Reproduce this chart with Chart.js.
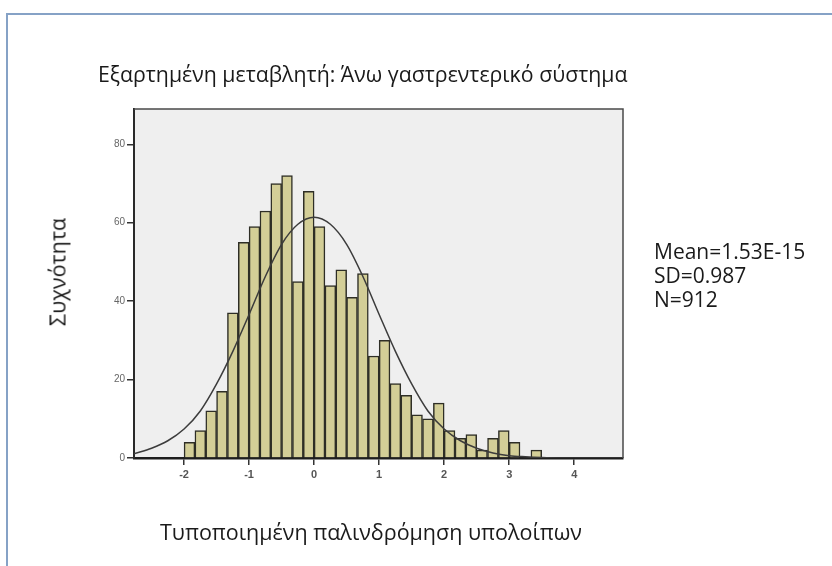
<!DOCTYPE html>
<html>
<head>
<meta charset="utf-8">
<script src="https://cdn.jsdelivr.net/npm/chart.js@4.4.1/dist/chart.umd.min.js"></script>
<style>
  html, body { margin: 0; padding: 0; background: #fff; }
  body { width: 832px; height: 566px; position: relative; overflow: hidden; font-family: 'Open Sans', 'Noto Sans', sans-serif; color: #1a1a1a; }
  .frame { position: absolute; left: 6px; top: 13px; width: 900px; height: 700px; border-top: 2px solid #86a2c6; border-left: 2px solid #86a2c6; }
  #wrap { position: absolute; left: 0; top: 0; width: 832px; height: 566px; }
  .txt { position: absolute; white-space: nowrap; }
  #title { left: 98px; top: 73px; transform: translateY(-50%); font-size: 21.3px; }
  #ylab { left: 57px; top: 272px; transform: translate(-50%, -50%) rotate(-90deg); font-size: 21.5px; }
  #xlab { left: 371px; top: 531px; transform: translate(-50%, -50%); font-size: 21.5px; }
  #stats { left: 654px; top: 239px; font-size: 21px; line-height: 24px; }
</style>
</head>
<body>
<div class="frame"></div>
<div id="wrap"><canvas id="hist"></canvas></div>
<div class="txt" id="title">Εξαρτημένη μεταβλητή: Άνω γαστρεντερικό σύστημα</div>
<div class="txt" id="ylab">Συχνότητα</div>
<div class="txt" id="xlab">Τυποποιημένη παλινδρόμηση υπολοίπων</div>
<div class="txt" id="stats">Mean=1.53E-15<br>SD=0.987<br>N=912</div>
<script>
// histogram bins (centres, width 1/6) and frequencies
const binCenters = [-1.917, -1.75, -1.583, -1.417, -1.25, -1.083, -0.917, -0.75, -0.583, -0.417, -0.25, -0.083,
  0.083, 0.25, 0.417, 0.583, 0.75, 0.917, 1.083, 1.25, 1.417, 1.583, 1.75, 1.917,
  2.083, 2.25, 2.417, 2.583, 2.75, 2.917, 3.083, 3.25, 3.417];
const counts = [4, 7, 12, 17, 37, 55, 59, 63, 70, 72, 45, 68,
  59, 44, 48, 41, 47, 26, 30, 19, 16, 11, 10, 14,
  7, 5, 6, 2, 5, 7, 4, 0, 2];

// normal curve
const curveX = [-2.77, -2.5, -2.25, -2, -1.75, -1.5, -1.25, -1, -0.75, -0.5, -0.25, 0,
  0.25, 0.5, 0.75, 1, 1.25, 1.5, 1.75, 2, 2.25, 2.5, 2.75, 3, 3.25, 3.5, 3.75, 4, 4.25, 4.5, 4.75];
const curveY = [1.1, 2.5, 4.4, 7.4, 12.0, 18.9, 27.2, 36.6, 46.3, 54.5, 59.6, 61.4,
  59.6, 54.5, 46.3, 36.6, 27.2, 18.9, 12.0, 7.4, 4.4, 2.5, 1.3, 0.6, 0.3, 0.1, 0, 0, 0, 0, 0];

const xTicks = [-2, -1, 0, 1, 2, 3, 4];
const yTicks = [0, 20, 40, 60, 80];

const plotBg = {
  id: 'plotBg',
  beforeDraw(chart) {
    const { ctx, chartArea: a } = chart;
    ctx.save();
    ctx.fillStyle = '#efefef';
    ctx.fillRect(a.left, a.top, a.right - a.left, a.bottom - a.top);
    ctx.restore();
  },
  afterDraw(chart) {
    const { ctx, chartArea: a } = chart;
    ctx.save();
    ctx.strokeStyle = '#4a4a4a';
    ctx.lineWidth = 1.5;
    ctx.beginPath();
    ctx.moveTo(a.left, a.top);
    ctx.lineTo(a.right, a.top);
    ctx.lineTo(a.right, a.bottom);
    ctx.stroke();
    ctx.restore();
  }
};

new Chart(document.getElementById('hist'), {
  data: {
    datasets: [
      {
        type: 'line',
        data: curveX.map((x, i) => ({ x, y: curveY[i] })),
        borderColor: '#3c3c3c',
        borderWidth: 1.5,
        pointRadius: 0,
        cubicInterpolationMode: 'monotone',
        order: 0
      },
      {
        type: 'bar',
        data: binCenters.map((x, i) => ({ x, y: counts[i] })),
        backgroundColor: '#d3ce97',
        borderColor: '#2e2e26',
        borderWidth: 1.5,
        barPercentage: 1,
        categoryPercentage: 1,
        order: 1
      }
    ]
  },
  options: {
    responsive: true,
    maintainAspectRatio: false,
    animation: false,
    layout: { padding: { left: 0, top: 109, right: 209, bottom: 0 } },
    plugins: { legend: { display: false }, tooltip: { enabled: false } },
    scales: {
      x: {
        type: 'linear',
        min: -2.77,
        max: 4.75,
        offset: false,
        afterFit(s) { s.height = 108; },
        afterBuildTicks(s) { s.ticks = xTicks.map(v => ({ value: v })); },
        grid: { offset: false, drawOnChartArea: false, drawTicks: true, tickLength: 7, color: '#333', lineWidth: 1.5 },
        border: { display: true, color: '#1e1e1e', width: 2.5 },
        ticks: { color: '#555', font: { family: 'Liberation Sans', size: 11, weight: 'bold' }, padding: 3, maxRotation: 0 }
      },
      y: {
        min: 0,
        max: 89,
        afterFit(s) { s.width = 134; },
        afterBuildTicks(s) { s.ticks = yTicks.map(v => ({ value: v })); },
        grid: { drawOnChartArea: false, drawTicks: true, tickLength: 7, color: '#333', lineWidth: 1.5 },
        border: { display: true, color: '#2a2a2a', width: 2 },
        ticks: { color: '#666', font: { family: 'Liberation Sans', size: 10 }, padding: 2 }
      }
    }
  },
  plugins: [plotBg]
});
</script>
</body>
</html>
